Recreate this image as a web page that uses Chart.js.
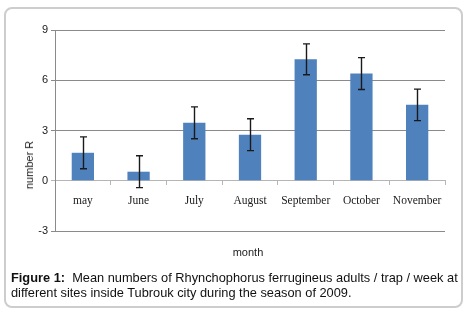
<!DOCTYPE html>
<html><head><meta charset="utf-8">
<script src="https://cdn.jsdelivr.net/npm/chart.js@4.4.1/dist/chart.umd.min.js"></script>
<style>
html,body{margin:0;padding:0;background:#fff;}
#wrap{position:relative;width:471px;height:310px;overflow:hidden;}
#frame{position:absolute;left:4px;top:7px;width:455px;height:297px;border:2px solid #cdcdcd;border-radius:8px;box-sizing:content-box;}
#cv{position:absolute;left:0;top:0;}
#cap{position:absolute;left:11px;top:270px;width:460px;font-family:"Liberation Sans",Arial,sans-serif;font-size:12.8px;line-height:15px;color:#111;white-space:nowrap;}
#ytitle{position:absolute;left:29px;top:165px;transform:translate(-50%,-50%) rotate(-90deg);font-family:"Liberation Sans",Arial,sans-serif;font-size:11px;color:#222;white-space:nowrap;}
#xtitle{position:absolute;left:248px;top:252px;transform:translate(-50%,-50%);font-family:"Liberation Sans",Arial,sans-serif;font-size:11px;color:#222;white-space:nowrap;}
</style></head>
<body>
<div id="wrap">
<div id="frame"></div>
<canvas id="cv" width="471" height="310"></canvas>
<div id="ytitle">number R</div>
<div id="xtitle">month</div>
<div id="cap"><b>Figure 1:</b>&nbsp; Mean numbers of Rhynchophorus ferrugineus adults / trap / week at<br>different sites inside Tubrouk city during the season of 2009.</div>
</div>
<script>
const categories = ["may","June","July","August","September","October","November"];
const means = [1.67, 0.54, 3.46, 2.75, 7.25, 6.4, 4.53];
const errors = [0.95, 0.95, 0.95, 0.95, 0.92, 0.95, 0.94];
const yTicks = [-3, 0, 3, 6, 9];

const errorBars = {
  id: 'errorBars',
  afterDatasetsDraw(chart) {
    const ctx = chart.ctx;
    const meta = chart.getDatasetMeta(0);
    const ys = chart.scales.y;
    ctx.save();
    ctx.strokeStyle = '#1a1a1a';
    ctx.lineWidth = 1.4;
    meta.data.forEach((bar, i) => {
      const x = Math.round(bar.x) + 0.5;
      const top = ys.getPixelForValue(means[i] + errors[i]);
      const bot = ys.getPixelForValue(means[i] - errors[i]);
      ctx.beginPath();
      ctx.moveTo(x, top); ctx.lineTo(x, bot);
      ctx.moveTo(x - 3.5, top); ctx.lineTo(x + 3.5, top);
      ctx.moveTo(x - 3.5, bot); ctx.lineTo(x + 3.5, bot);
      ctx.stroke();
    });
    ctx.restore();
  }
};

new Chart(document.getElementById('cv'), {
  type: 'bar',
  data: {
    labels: categories,
    datasets: [{
      data: means,
      backgroundColor: '#4f81bd',
      borderWidth: 0,
      barPercentage: 0.4,
      categoryPercentage: 1.0
    }]
  },
  options: {
    responsive: false,
    animation: false,
    devicePixelRatio: 1,
    layout: { padding: { left: 0, right: 26, top: 30, bottom: 79 } },
    plugins: { legend: { display: false }, tooltip: { enabled: false } },
    scales: {
      x: {
        position: { y: 0 },
        grid: { display: true, drawOnChartArea: false, drawTicks: true, tickLength: 4, color: '#b5b5b5', offset: true },
        border: { display: true, color: '#b5b5b5', width: 1 },
        ticks: { color: '#1a1a1a', padding: 9, font: { family: '"Liberation Serif","Times New Roman",serif', size: 11.5 }, maxRotation: 0, autoSkip: false }
      },
      y: {
        min: -3, max: 9,
        afterBuildTicks(scale) { scale.ticks = yTicks.map(v => ({ value: v })); },
        afterFit(scale) { scale.width = 55; },
        grid: { color: (c) => c.tick && c.tick.value === 0 ? '#b5b5b5' : '#8a8a8a', drawTicks: true, tickLength: 4, lineWidth: 1 },
        border: { display: true, color: '#8a8a8a' },
        ticks: { color: '#1a1a1a', padding: 3, font: { family: '"Liberation Sans",Arial,sans-serif', size: 11 } }
      }
    }
  },
  plugins: [errorBars]
});
</script>
</body></html>
